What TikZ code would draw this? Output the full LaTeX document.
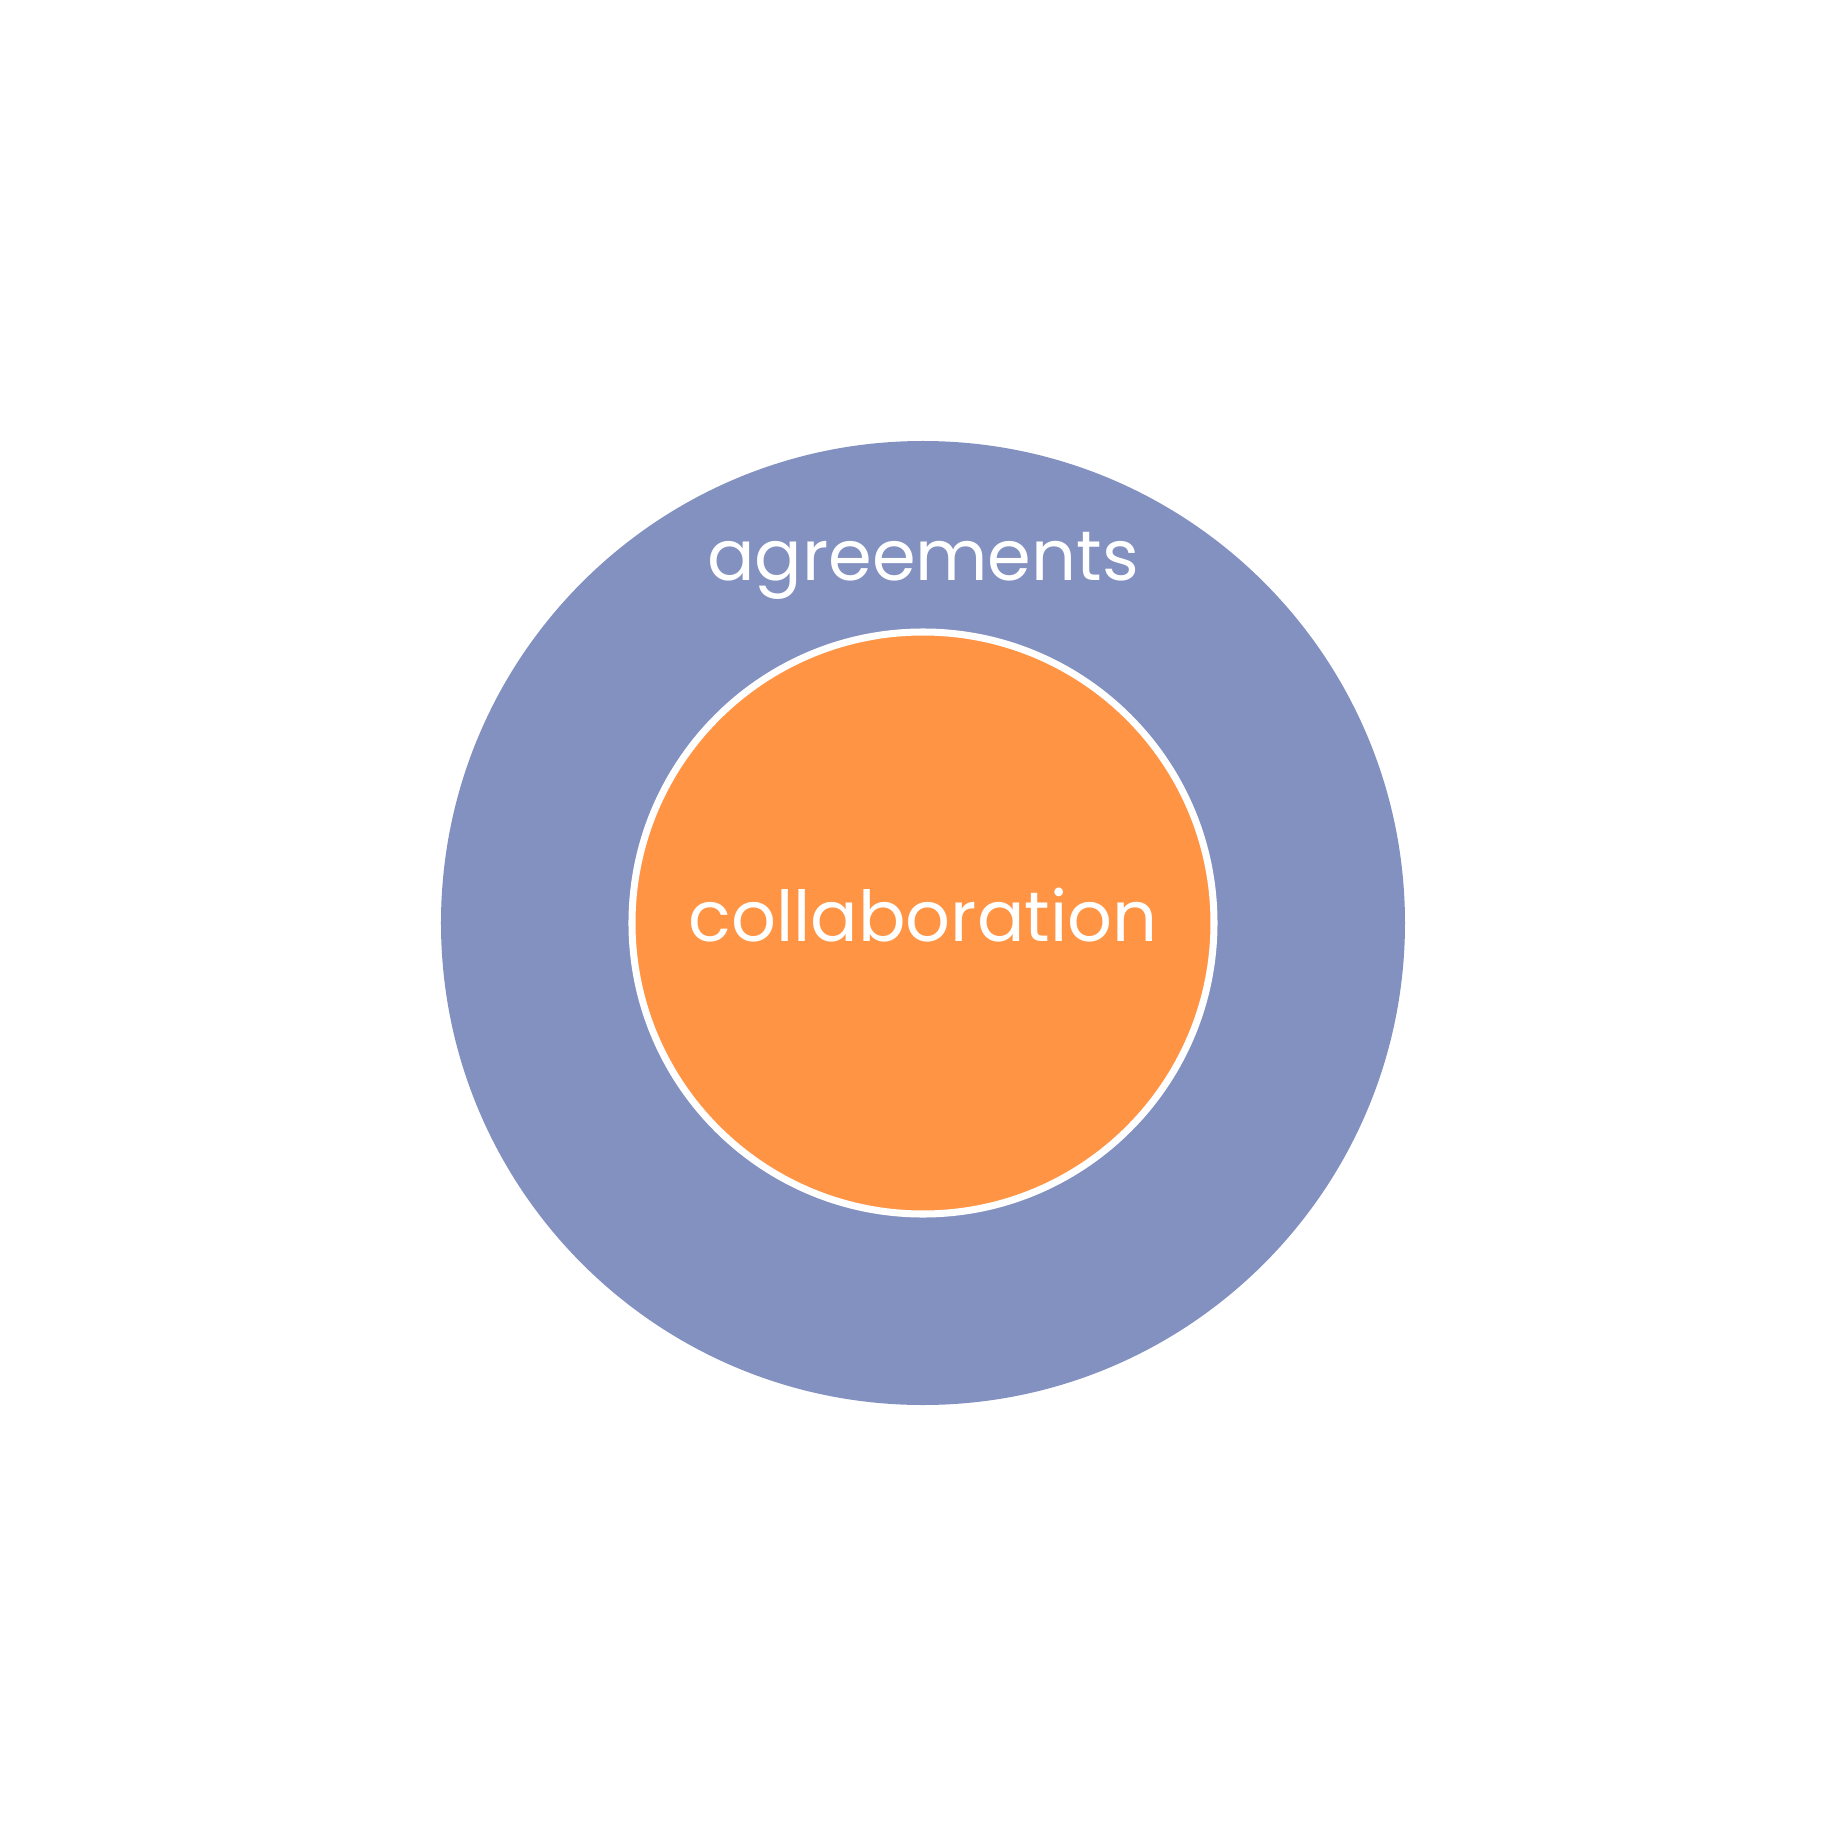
\documentclass[tikz,border=0pt]{standalone}
\usepackage{fontspec}
\setmainfont{Poppins}
\definecolor{agreeblue}{HTML}{8391C1}
\definecolor{collaborange}{HTML}{FF9444}

\begin{document}
\begin{tikzpicture}
            \useasboundingbox (-9.23,-9.24) rectangle (9.24,9.23);
            \tikzset{label text/.style={text=white, font=\fontsize{20}{24}\selectfont}}
            \node[circle, fill=agreeblue, minimum size=9.64cm, inner sep=0pt] (outer) at (0,0) {};
            \node[circle, fill=collaborange, draw=white, line width=2pt, minimum size=5.82cm, inner sep=0pt] (inner) at (0,0) {};
            \node[label text, anchor=base] (agree) at (0,3.42) {agreements};
            \node[label text, anchor=base] (collab) at (0,-0.18) {collaboration};
        \end{tikzpicture}
\end{document}
